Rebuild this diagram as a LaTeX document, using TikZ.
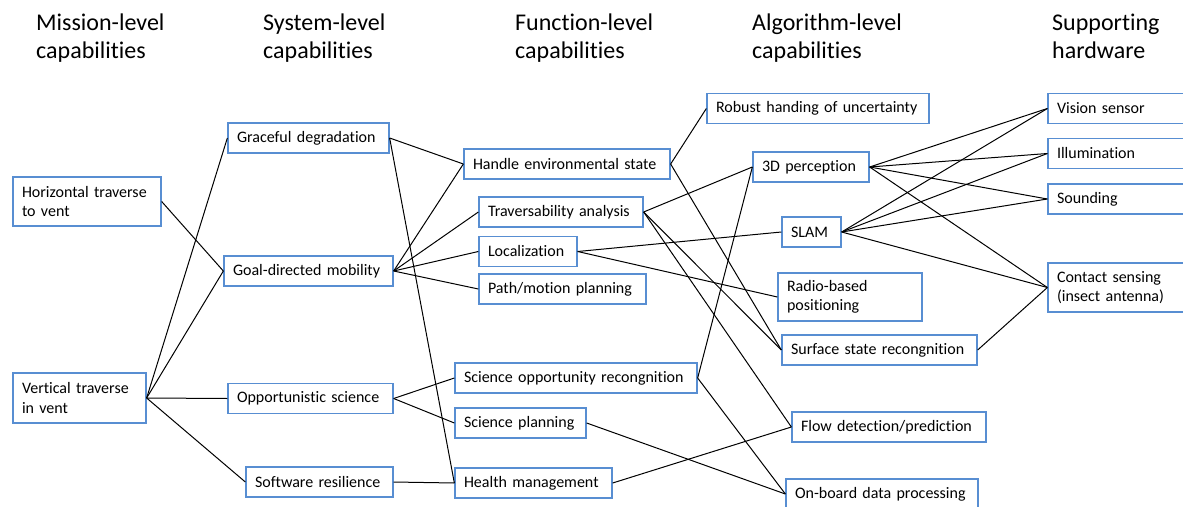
\documentclass[tikz,border=0pt]{standalone}
\usepackage{fontspec}
\setmainfont{Carlito}[Ligatures=NoCommon]
\definecolor{boxblue}{RGB}{88,142,210}

\begin{document}
\begin{tikzpicture}[x=1pt, y=-1pt,
  box/.style={draw=boxblue, line width=1.3pt, align=left, inner xsep=9pt, inner ysep=0pt, minimum height=30pt, font=\fontsize{16}{19.5}\selectfont},
  head/.style={anchor=north west, inner sep=0pt, align=left, font=\fontsize{24}{28}\selectfont},
  link/.style={line width=1pt}]
\path[use as bounding box, clip] (0,0) rectangle (1183,506);
% Titles
\node[head] (hmis) at (36,14) {Mission-level\\capabilities};
\node[head] (hsys) at (263,14) {System-level\\capabilities};
\node[head] (hfun) at (515,14) {Function-level\\capabilities};
\node[head] (halg) at (752,14) {Algorithm-level\\capabilities};
\node[head] (hhw) at (1052,14) {Supporting\\hardware};
% Mission level
\node[box, text width=130pt, minimum height=49pt] (horiz) at (87,201.5) {Horizontal traverse\\to vent};
\node[box, text width=115pt, minimum height=50pt] (vert) at (79.5,398) {Vertical traverse\\in vent};
% System level
\node[box, text width=143pt] (grace) at (308.5,138) {Graceful degradation};
\node[box, text width=151pt] (goal) at (308.5,271) {Goal-directed mobility};
\node[box, text width=147pt] (oppsci) at (310.5,398.5) {Opportunistic science};
\node[box, text width=129pt] (softres) at (319.5,482) {Software resilience};
% Function level
\node[box, text width=188pt] (envstate) at (567,164) {Handle environmental state};
\node[box, text width=146pt] (travers) at (561,212) {Traversability analysis};
\node[box, text width=80pt] (localiz) at (528,251.5) {Localization};
\node[box, text width=149pt] (pathplan) at (562.5,289) {Path/motion planning};
\node[box, text width=224pt] (sciopp) at (576,378) {Science opportunity recongnition};
\node[box, text width=113pt] (sciplan) at (520.5,423) {Science planning};
\node[box, text width=139pt] (health) at (533.5,483) {Health management};
% Algorithm level
\node[box, text width=204pt] (robust) at (818,108.5) {Robust handing of uncertainty};
\node[box, text width=98pt] (percep) at (811,167) {3D perception};
\node[box, text width=41pt] (slam) at (811.5,232) {SLAM};
\node[box, text width=126pt, minimum height=48pt] (radio) at (850,297) {Radio-based\\positioning};
\node[box, text width=177pt] (surface) at (879.5,350) {Surface state recongnition};
\node[box, text width=176pt] (flow) at (889,427) {Flow detection/prediction};
\node[box, text width=174pt] (onboard) at (882,494) {On-board data processing};
% Hardware
\node[box, text width=132pt] (vision) at (1123,108.5) {Vision sensor};
\node[box, text width=132pt] (illum) at (1123,153.5) {Illumination};
\node[box, text width=132pt] (sound) at (1123,199) {Sounding};
\node[box, text width=132pt, minimum height=49pt] (contact) at (1123,287.5) {Contact sensing\\(insect antenna)};
% Mission -> system
\draw[link] (horiz.east)--(goal.west);
\draw[link] (vert.east)--(grace.west);
\draw[link] (vert.east)--(goal.west);
\draw[link] (vert.east)--(oppsci.west);
\draw[link] (vert.east)--(softres.west);
% System -> function
\draw[link] (grace.east)--(envstate.west);
\draw[link] (grace.east)--(health.west);
\draw[link] (goal.east)--(envstate.west);
\draw[link] (goal.east)--(travers.west);
\draw[link] (goal.east)--(localiz.west);
\draw[link] (goal.east)--(pathplan.west);
\draw[link] (oppsci.east)--(sciopp.west);
\draw[link] (oppsci.east)--(sciplan.west);
\draw[link] (softres.east)--(health.west);
% Function -> algorithm
\draw[link] (envstate.east)--(robust.west);
\draw[link] (envstate.east)--(surface.west);
\draw[link] (travers.east)--(percep.west);
\draw[link] (travers.east)--(surface.west);
\draw[link] (travers.east)--(flow.west);
\draw[link] (localiz.east)--(slam.west);
\draw[link] (localiz.east)--(radio.west);
\draw[link] (sciopp.east)--(percep.west);
\draw[link] (sciopp.east)--(onboard.west);
\draw[link] (sciplan.east)--(onboard.west);
\draw[link] (health.east)--(flow.west);
% Algorithm -> hardware
\draw[link] (percep.east)--(vision.west);
\draw[link] (percep.east)--(illum.west);
\draw[link] (percep.east)--(sound.west);
\draw[link] (percep.east)--(contact.west);
\draw[link] (slam.east)--(vision.west);
\draw[link] (slam.east)--(illum.west);
\draw[link] (slam.east)--(sound.west);
\draw[link] (slam.east)--(contact.west);
\draw[link] (surface.east)--(contact.west);
\end{tikzpicture}
\end{document}
